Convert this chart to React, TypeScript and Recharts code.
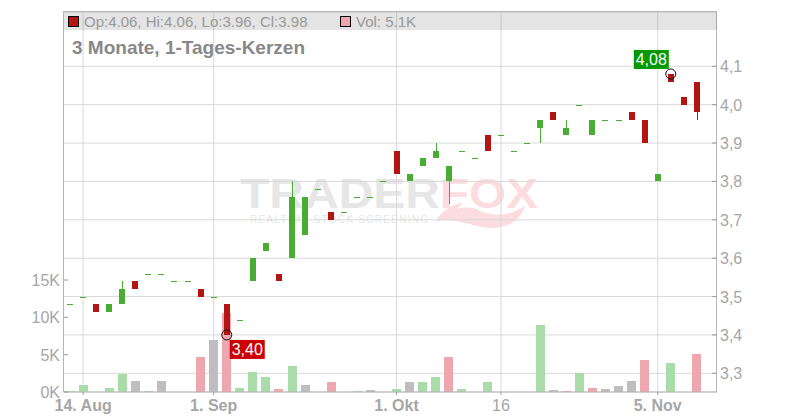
import { Bar, CartesianGrid, ComposedChart, ReferenceDot, XAxis, YAxis } from "recharts";

const days = [
  "13. Aug", "14. Aug", "15. Aug", "18. Aug", "19. Aug", "20. Aug", "21. Aug", "22. Aug", "26. Aug", "27. Aug",
  "29. Aug", "1. Sep", "2. Sep", "3. Sep", "4. Sep", "5. Sep", "8. Sep", "9. Sep", "10. Sep", "11. Sep",
  "12. Sep", "15. Sep", "16. Sep", "17. Sep", "18. Sep", "1. Okt", "2. Okt", "6. Okt", "7. Okt", "8. Okt",
  "9. Okt", "13. Okt", "14. Okt", "16", "17. Okt", "20. Okt", "21. Okt", "22. Okt", "23. Okt", "24. Okt",
  "27. Okt", "28. Okt", "29. Okt", "30. Okt", "31. Okt", "5. Nov", "6. Nov", "7. Nov", "10. Nov", "11. Nov",
];

const opens = [
  3.48, 3.5, 3.48, 3.46, 3.48, 3.54, 3.56, 3.56, 3.54, 3.54,
  3.52, 3.5, 3.48, 3.44, 3.54, 3.62, 3.56, 3.6, 3.66, 3.78,
  3.72, 3.72, 3.76, 3.76, 3.8, 3.88, 3.8, 3.84, 3.86, 3.8,
  3.88, 3.86, 3.92, 3.92, 3.88, 3.9, 3.94, 3.98, 3.92, 4.0,
  3.92, 3.96, 3.96, 3.98, 3.96, 3.8, 4.08, 4.02, 4.06, null,
];
const highs = [
  3.48, 3.5, 3.48, 3.48, 3.54, 3.54, 3.56, 3.56, 3.54, 3.54,
  3.52, 3.5, 3.48, 3.44, 3.6, 3.64, 3.56, 3.8, 3.76, 3.78,
  3.72, 3.72, 3.76, 3.76, 3.8, 3.88, 3.82, 3.86, 3.9, 3.84,
  3.88, 3.86, 3.92, 3.92, 3.88, 3.9, 3.96, 3.98, 3.96, 4.0,
  3.96, 3.96, 3.96, 3.98, 3.96, 3.82, 4.08, 4.02, 4.06, null,
];
const lows = [
  3.48, 3.5, 3.46, 3.46, 3.48, 3.52, 3.56, 3.56, 3.54, 3.54,
  3.5, 3.5, 3.4, 3.44, 3.54, 3.62, 3.54, 3.6, 3.66, 3.78,
  3.7, 3.72, 3.76, 3.76, 3.8, 3.82, 3.8, 3.84, 3.86, 3.74,
  3.88, 3.86, 3.88, 3.92, 3.88, 3.9, 3.9, 3.96, 3.92, 4.0,
  3.92, 3.96, 3.96, 3.96, 3.9, 3.8, 4.06, 4.0, 3.96, null,
];
const closes = [
  3.48, 3.5, 3.46, 3.48, 3.52, 3.52, 3.56, 3.56, 3.54, 3.54,
  3.5, 3.5, 3.4, 3.44, 3.6, 3.64, 3.54, 3.76, 3.76, 3.78,
  3.7, 3.72, 3.76, 3.76, 3.8, 3.82, 3.82, 3.86, 3.88, 3.84,
  3.88, 3.86, 3.88, 3.92, 3.88, 3.9, 3.96, 3.96, 3.94, 4.0,
  3.96, 3.96, 3.96, 3.96, 3.9, 3.82, 4.06, 4.0, 3.98, null,
];

// volume in thousands
const volumes = [
  0.15, 1.0, 0, 0.6, 2.45, 1.5, 0.2, 1.5, 0, 0,
  4.7, 6.9, 10.6, 0.6, 2.7, 2.05, 0.45, 3.5, 1.0, 0,
  1.4, 0, 0.2, 0.3, 0, 0.45, 1.4, 1.4, 2.05, 4.7,
  0.45, 0, 1.4, 0, 0, 0, 9.0, 0.3, 0.2, 2.55,
  0.6, 0.45, 0.85, 1.5, 4.3, 0, 3.9, 0, 5.1, 0,
];
const volumeTones = [
  "up", "up", "flat", "up", "up", "flat", "up", "flat", "flat", "flat",
  "down", "flat", "down", "up", "up", "up", "down", "up", "flat", "flat",
  "down", "flat", "up", "flat", "flat", "up", "flat", "up", "up", "down",
  "up", "flat", "up", "flat", "flat", "flat", "up", "flat", "down", "up",
  "down", "flat", "flat", "flat", "down", "flat", "up", "flat", "down", "flat",
];

const dateTicks = ["14. Aug", "1. Sep", "1. Okt", "16", "5. Nov"];
const priceTicks = [3.3, 3.4, 3.5, 3.6, 3.7, 3.8, 3.9, 4.0, 4.1];
const volumeTicks = [0, 5, 10, 15];

const rows = days.map((day, i) => ({
  day,
  open: opens[i],
  high: highs[i],
  low: lows[i],
  close: closes[i],
  volume: volumes[i],
  tone: volumeTones[i],
}));

const candleUp = "#4aad33";
const candleDown = "#b31414";
const toneColor: Record<string, string> = { up: "#aadca9", down: "#eea6af", flat: "#bebebe" };
const axisText = "#a6a6a6";
const font = '"Liberation Sans", Arial, sans-serif';

function Candle({ x, y, width, height, payload }: any) {
  if (payload.high == null) return null;
  const color = payload.close >= payload.open ? candleUp : candleDown;
  const left = Math.floor(x);
  const size = Math.round(width);
  if (payload.high === payload.low) {
    return <rect x={left} y={Math.round(y)} width={size} height={1} fill={color} />;
  }
  const perUnit = height / (payload.high - payload.low);
  const top = y + (payload.high - Math.max(payload.open, payload.close)) * perUnit;
  const bottom = y + (payload.high - Math.min(payload.open, payload.close)) * perUnit;
  const bodyTop = Math.round(top);
  const bodyHeight = Math.max(1, Math.round(bottom) - bodyTop);
  const wickTop = Math.round(y);
  return (
    <g>
      <rect x={left + size / 2} y={wickTop} width={1} height={Math.round(y + height) - wickTop} fill={color} />
      <rect x={left} y={bodyTop} width={size} height={bodyHeight} fill={color} />
    </g>
  );
}

function VolumeBar({ x, y, width, height, payload }: any) {
  if (!payload.volume) return null;
  const top = Math.round(y);
  return <rect x={Math.round(x)} y={top} width={Math.round(width)} height={Math.round(y + height) - top} fill={toneColor[payload.tone]} />;
}

function DateTick({ x, payload }: any) {
  return (
    <g>
      <line x1={x} x2={x} y1={392} y2={395} stroke="#999" />
      <text x={x} y={411} textAnchor="middle" fontFamily={font} fontSize={16} fontWeight={payload.value === "16" ? 400 : 700} fill={axisText}>
        {payload.value}
      </text>
    </g>
  );
}

function PriceTick({ y, payload }: any) {
  return (
    <g>
      <line x1={712} x2={717} y1={y} y2={y} stroke="#999" />
      <text x={720} y={y + 6} fontFamily={font} fontSize={16} fill={axisText}>
        {payload.value.toFixed(1).replace(".", ",")}
      </text>
    </g>
  );
}

function VolumeTick({ y, payload }: any) {
  return (
    <g>
      <line x1={64} x2={68} y1={y} y2={y} stroke="#999" />
      <text x={60} y={y + 6} textAnchor="end" fontFamily={font} fontSize={16} fill={axisText}>
        {payload.value}K
      </text>
    </g>
  );
}

function PriceMark({ cx, cy, text, fill, boxX, boxY }: any) {
  return (
    <g>
      <circle cx={cx} cy={cy} r={5} fill="none" stroke="#111" />
      <rect x={cx + boxX} y={cy + boxY} width={35} height={19} fill={fill} />
      <text x={cx + boxX + 17.5} y={cy + boxY + 15} textAnchor="middle" fontFamily={font} fontSize={16} fill="#fff">
        {text}
      </text>
    </g>
  );
}

function Watermark() {
  return (
    <svg width={800} height={420} style={{ position: "absolute", left: 0, top: 0 }}>
      <text x={240} y={208} fontFamily={font} fontSize={43} fontWeight={700} fill="#e6e6e6" textLength={200} lengthAdjust="spacingAndGlyphs">
        TRADER
      </text>
      <text x={440} y={208} fontFamily={font} fontSize={43} fontWeight={700} fill="#fcdcde" textLength={98} lengthAdjust="spacingAndGlyphs">
        FOX
      </text>
      <path
        d="M435 222 C442 210 452 204 463 203 L457 209 C468 206 476 208 483 212 C495 217 512 215 525 206 C520 222 505 229 490 228 C472 227 452 216 435 222 Z"
        fill="#fcdcde"
      />
      <text x={250} y={223} fontFamily={font} fontSize={10} fill="#e6e6e6" textLength={178}>
        REALTIME STOCK SCREENING
      </text>
    </svg>
  );
}

export default function App() {
  return (
    <div style={{ position: "fixed", left: 0, top: 0, width: 800, height: 420, background: "#fff", overflow: "hidden" }}>
      <Watermark />
      <div style={{ position: "absolute", left: 0, top: 0 }}>
        <ComposedChart width={800} height={420} data={rows} barGap={0} margin={{ top: 12, right: 0, bottom: 0, left: 0 }}>
          <CartesianGrid xAxisId="candle" yAxisId="price" stroke="#d9d9d9" strokeWidth={1} />
          <XAxis
            xAxisId="candle"
            dataKey="day"
            ticks={dateTicks}
            interval={0}
            height={28}
            axisLine={{ stroke: "#b5b5b5" }}
            tickLine={false}
            tick={<DateTick />}
          />
          <XAxis xAxisId="volume" dataKey="day" hide />
          <YAxis
            yAxisId="volume"
            orientation="left"
            width={63.5}
            domain={[0, 50.9]}
            ticks={volumeTicks}
            interval={0}
            axisLine={{ stroke: "#b5b5b5" }}
            tickLine={false}
            tick={<VolumeTick />}
          />
          <YAxis
            yAxisId="price"
            orientation="right"
            width={83.5}
            domain={[3.2513, 4.2415]}
            ticks={priceTicks}
            interval={0}
            axisLine={{ stroke: "#b5b5b5" }}
            tickLine={false}
            tick={<PriceTick />}
          />
          <Bar xAxisId="volume" yAxisId="volume" dataKey="volume" barSize={9} shape={<VolumeBar />} isAnimationActive={false} />
          <Bar
            xAxisId="candle"
            yAxisId="price"
            dataKey={(row: any) => (row.high == null ? null : [row.low, row.high])}
            barSize={6}
            shape={<Candle />}
            isAnimationActive={false}
          />
          <ReferenceDot
            xAxisId="candle"
            yAxisId="price"
            x="2. Sep"
            y={3.4}
            shape={(props: any) => <PriceMark {...props} text="3,40" fill="#cc0000" boxX={3} boxY={5} />}
          />
          <ReferenceDot
            xAxisId="candle"
            yAxisId="price"
            x="6. Nov"
            y={4.08}
            shape={(props: any) => <PriceMark {...props} text="4,08" fill="#009900" boxX={-37} boxY={-24} />}
          />
        </ComposedChart>
      </div>
      {/* frame top + header band above the chart */}
      <div style={{ position: "absolute", left: 63, top: 11, width: 654, height: 1, background: "#b5b5b5" }} />
      <div style={{ position: "absolute", left: 64, top: 12, width: 653, height: 18, background: "rgba(120,120,120,0.2)" }} />
      <div style={{ position: "absolute", left: 68, top: 16, width: 9, height: 9, background: candleDown, border: "1px solid #000" }} />
      <div style={{ position: "absolute", left: 84, top: 13, fontFamily: font, fontSize: 15, lineHeight: "17px", color: "#999", whiteSpace: "nowrap" }}>
        Op:4.06, Hi:4.06, Lo:3.96, Cl:3.98
      </div>
      <div style={{ position: "absolute", left: 340, top: 16, width: 9, height: 9, background: toneColor.down, border: "1px solid #000" }} />
      <div style={{ position: "absolute", left: 356, top: 13, fontFamily: font, fontSize: 15, lineHeight: "17px", color: "#999", whiteSpace: "nowrap" }}>
        Vol: 5.1K
      </div>
      <div style={{ position: "absolute", left: 72, top: 37, fontFamily: font, fontSize: 19, fontWeight: 700, lineHeight: "22px", color: "#888", whiteSpace: "nowrap" }}>
        3 Monate, 1-Tages-Kerzen
      </div>
    </div>
  );
}
